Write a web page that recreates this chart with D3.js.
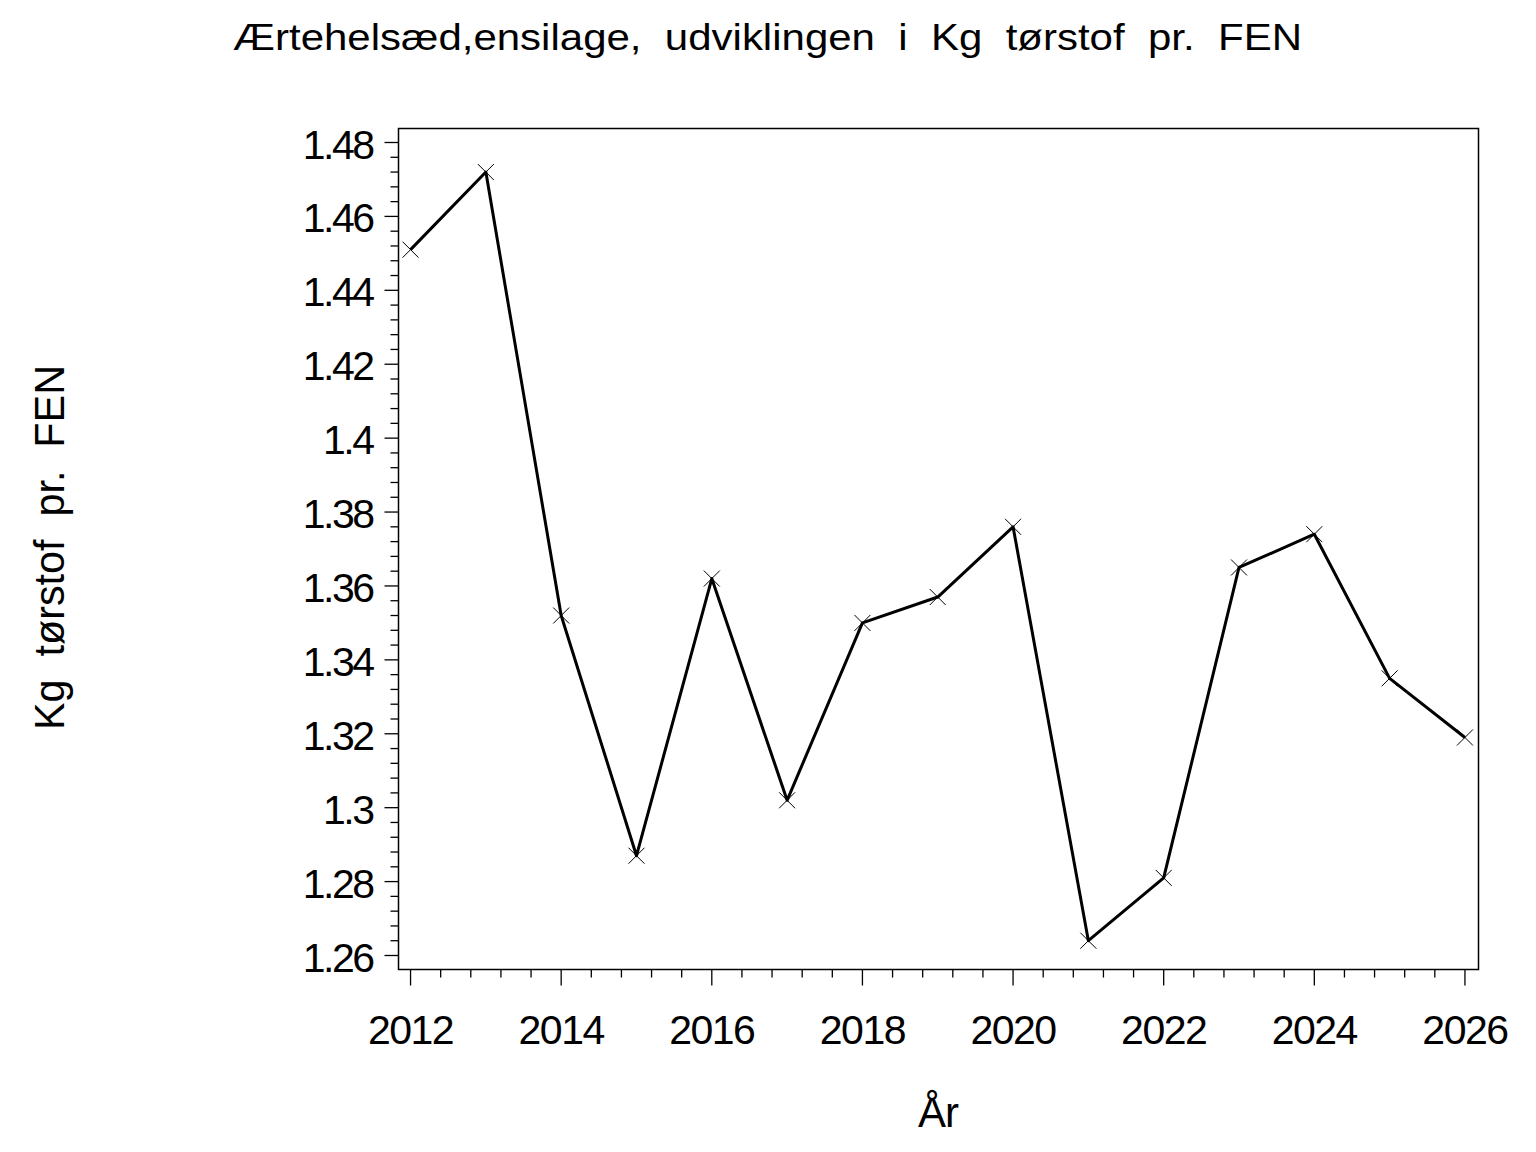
<!DOCTYPE html>
<html><head><meta charset="utf-8">
<script src="https://cdn.jsdelivr.net/npm/d3@7"></script>
<style>
html,body{margin:0;padding:0;background:#fff;}
svg text{font-family:"Liberation Sans",Arial,sans-serif;fill:#000;}
</style></head>
<body>
<svg id="chart" width="1536" height="1152"></svg>
<script>
const years = [2012,2013,2014,2015,2016,2017,2018,2019,2020,2021,2022,2023,2024,2025,2026];
const values = [1.451,1.472,1.352,1.287,1.362,1.302,1.350,1.357,1.376,1.264,1.281,1.365,1.374,1.335,1.319];
const xTickLabels = [2012,2014,2016,2018,2020,2022,2024,2026];
const yTickLabels = [1.26,1.28,1.30,1.32,1.34,1.36,1.38,1.40,1.42,1.44,1.46,1.48];
const titleText = "Ærtehelsæd,ensilage,  udviklingen  i  Kg  tørstof  pr.  FEN";
const xLabel = "År";
const yLabel = "Kg  tørstof  pr.  FEN";

const svg = d3.select("#chart");
const L = 398.5, R = 1478.5, T = 128.5, B = 969.5;
const x = d3.scaleLinear().domain([2011.84, 2026.18]).range([L, R]);
const y = d3.scaleLinear().domain([1.26, 1.48]).range([955.5, 142.5]);

// frame
svg.append("rect").attr("x", L).attr("y", T).attr("width", R - L).attr("height", B - T)
  .attr("fill", "none").attr("stroke", "#000").attr("stroke-width", 1.5);

// x ticks
const xMinor = d3.range(2012, 2026.001, 0.4).filter(v => Math.abs(v - Math.round(v/2)*2) > 1e-6);
const gx = svg.append("g").attr("transform", `translate(0,${B})`);
gx.selectAll("line.min").data(xMinor).join("line")
  .attr("x1", d => x(d)).attr("x2", d => x(d)).attr("y1", 0).attr("y2", 8)
  .attr("stroke", "#000").attr("stroke-width", 1.3);
gx.selectAll("line.maj").data(xTickLabels).join("line")
  .attr("x1", d => x(d)).attr("x2", d => x(d)).attr("y1", 0).attr("y2", 16)
  .attr("stroke", "#000").attr("stroke-width", 1.3);
gx.selectAll("text").data(xTickLabels).join("text")
  .attr("x", d => x(d)).attr("y", 74).attr("text-anchor", "middle")
  .attr("font-size", 41).attr("letter-spacing", -1.5).text(d => d);

// y ticks
const yMinor = d3.range(1.256, 1.4841, 0.004).filter(v => Math.abs(v*50 - Math.round(v*50)) > 1e-6 && v < 1.484 && v > 1.2565);
const gy = svg.append("g").attr("transform", `translate(${L},0)`);
gy.selectAll("line.min").data(yMinor).join("line")
  .attr("y1", d => y(d)).attr("y2", d => y(d)).attr("x1", 0).attr("x2", -8)
  .attr("stroke", "#000").attr("stroke-width", 1.3);
gy.selectAll("line.maj").data(yTickLabels).join("line")
  .attr("y1", d => y(d)).attr("y2", d => y(d)).attr("x1", 0).attr("x2", -14)
  .attr("stroke", "#000").attr("stroke-width", 1.3);
gy.selectAll("text").data(yTickLabels).join("text")
  .attr("x", -26).attr("y", d => y(d) + 16).attr("text-anchor", "end")
  .attr("font-size", 41).attr("letter-spacing", -2.5)
  .text(d => d3.format("~g")(d));

// line
const line = d3.line().x(d => x(d[0])).y(d => y(d[1]));
const pts = years.map((yr, i) => [yr, values[i]]);
svg.append("path").datum(pts).attr("d", line).attr("fill", "none")
  .attr("stroke", "#000").attr("stroke-width", 3).attr("stroke-linejoin", "round");

// markers
const m = 8;
svg.append("g").selectAll("path").data(pts).join("path")
  .attr("d", d => { const cx = x(d[0]), cy = y(d[1]);
    return `M${cx-m},${cy-m}L${cx+m},${cy+m}M${cx-m},${cy+m}L${cx+m},${cy-m}`; })
  .attr("stroke", "#000").attr("stroke-width", 1).attr("fill", "none");

// title
svg.append("text").attr("x", 233).attr("y", 50)
  .attr("font-size", 37).attr("textLength", 1069).attr("lengthAdjust", "spacingAndGlyphs")
  .style("white-space", "pre").text(titleText);

// axis labels
svg.append("text").attr("x", 938).attr("y", 1127).attr("text-anchor", "middle")
  .attr("font-size", 42).attr("letter-spacing", -1).text(xLabel);
svg.append("text").attr("transform", "translate(64,730) rotate(-90)")
  .attr("font-size", 42).attr("textLength", 365).attr("lengthAdjust", "spacingAndGlyphs")
  .style("white-space", "pre").text(yLabel);
</script>
</body></html>
